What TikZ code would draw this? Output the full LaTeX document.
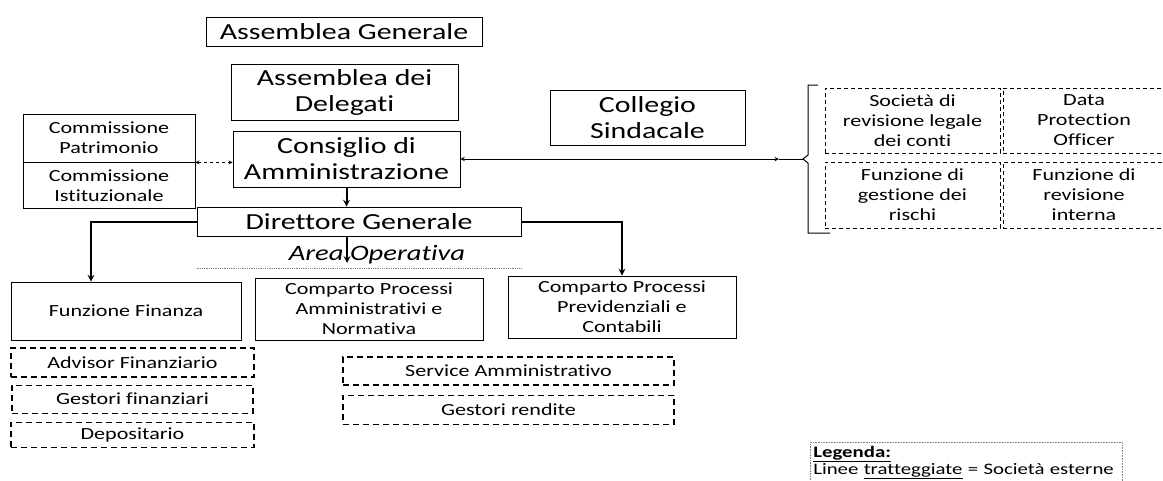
\documentclass[tikz,border=0pt]{standalone}
\usepackage{fontspec}
\setmainfont{Carlito}[FakeStretch=1.3,Ligatures=NoCommon]
\usepackage{tikz}
\usetikzlibrary{positioning}
\usetikzlibrary{arrows}
\tikzset{
  organ/.style={rectangle,draw=black,line width=0.8pt,inner sep=0pt,
                align=center,font=\fontsize{23}{26}\selectfont},
  office/.style={rectangle,draw=black,line width=0.8pt,inner sep=0pt,
                 align=center,font=\fontsize{17}{20}\selectfont},
  provider/.style={rectangle,draw=black,line width=1.1pt,inner sep=0pt,
                   dash pattern=on 6pt off 4pt,align=center,
                   font=\fontsize{17}{20}\selectfont},
  ctrlcell/.style={rectangle,draw=black,line width=0.8pt,inner sep=0pt,
                   dash pattern=on 4pt off 3pt,align=center,
                   font=\fontsize{17}{20}\selectfont},
  mainflow/.style={>=stealth,line width=2pt,->},
  sideflow/.style={>=stealth,line width=0.8pt,<->,dashed},
  ctrlflow/.style={>=stealth,line width=1pt,<->},
  bracket/.style={line width=1pt},
  legend/.style={rectangle,draw=gray,densely dotted,line width=0.6pt,
                 anchor=north west,inner xsep=3pt,align=left,
                 text width=306pt,minimum height=40pt,
                 font=\fontsize{16}{17}\selectfont},
}

\begin{document}
\begin{tikzpicture}[x=1pt,y=-1pt]
    \useasboundingbox (0,0) rectangle (1163,480);

    % Governing bodies
    \node[organ,minimum width=276pt,minimum height=29pt] (gen) at (344,31.5) {Assemblea Generale};
    \node[organ,minimum width=227pt,minimum height=56pt] (del) at (344.5,92) {Assemblea dei\\Delegati};
    \node[organ,minimum width=195pt,minimum height=55pt] (col) at (647.5,117.5) {Collegio\\Sindacale};
    \node[organ,minimum width=227pt,minimum height=56pt] (cda) at (346.5,159) {Consiglio di\\Amministrazione};
    \node[organ,minimum width=324pt,minimum height=29pt] (dg)  at (359,221.5) {Direttore Generale};

    % Commissions
    \node[office,minimum width=172pt,minimum height=48pt] (pat) at (109,138) {Commissione\\Patrimonio};
    \node[office,minimum width=172pt,minimum height=46pt] (ist) [below=0pt of pat] {Commissione\\Istituzionale};

    % Operating area
    \node[font=\itshape\fontsize{22}{24}\selectfont,inner sep=0pt,
          minimum height=26pt] (area) at (377,255) {Area Operativa};
    \draw[gray,densely dotted,line width=0.8pt] (dg.west |- area.south) -- (dg.east |- area.south);
    \coordinate (areatip) at (347,263);

    % Operating units
    \node[office,minimum width=230pt,minimum height=58pt] (fin)  at (126,311) {Funzione Finanza};
    \node[office,minimum width=228pt,minimum height=62pt] (amm)  at (369,309) {Comparto Processi\\Amministrativi e\\Normativa};
    \node[office,minimum width=228pt,minimum height=62pt] (prev) at (622,307) {Comparto Processi\\Previdenziali e\\Contabili};

    % External providers
    \node[provider,minimum width=243pt,minimum height=29pt] (adv)  at (132.5,362.5) {Advisor Finanziario};
    \node[provider,minimum width=241pt,minimum height=28pt] (gfin) [below=7pt of adv] {Gestori finanziari};
    \node[provider,minimum width=243pt,minimum height=25pt] (dep)  [below=8pt of gfin] {Depositario};
    \node[provider,minimum width=331pt,minimum height=28pt] (serv) at (508.5,371) {Service Amministrativo};
    \node[provider,minimum width=331pt,minimum height=29pt] (rend) [below=9pt of serv] {Gestori rendite};

    % Control functions
    \node[ctrlcell,minimum width=175pt,minimum height=65pt] (soc)   at (912.5,120.5) {Società di\\revisione legale\\dei conti};
    \node[ctrlcell,minimum width=162pt,minimum height=65pt] (dpo)   at (1084,120.5) {Data\\Protection\\Officer};
    \node[ctrlcell,minimum width=175pt,minimum height=66pt] (risk)  at (912.5,195) {Funzione di\\gestione dei\\rischi};
    \node[ctrlcell,minimum width=162pt,minimum height=66pt] (audit) at (1084,195) {Funzione di\\revisione\\interna};
    \coordinate (bkt) at (803,159);
    \coordinate (bktin) at (779,159);
    \draw[bracket] (818,85) -- (808,85) -- (808,155) -- (bkt) -- (808,163) -- (808,233) -- (830,233);

    % Links
    \draw[mainflow] (cda.south) -- (dg.north -| cda.south);
    \draw[mainflow] (dg.south -| areatip) -- (areatip);
    \draw[mainflow] (dg.west) -| ([xshift=-35pt]fin.north);
    \draw[mainflow] (dg.east) -| (prev.north);
    \draw[sideflow] (pat.south east) -- (pat.south east -| cda.west);
    \draw[ctrlflow] (cda.east) -- (bktin);
    \draw[bracket] (bktin) -- (bkt);

    % Legend
    \node[legend] (leg) at (810,442) {\textbf{\underline{Legenda:}}\\Linee \underline{tratteggiate} = Società esterne};
\end{tikzpicture}
\end{document}
